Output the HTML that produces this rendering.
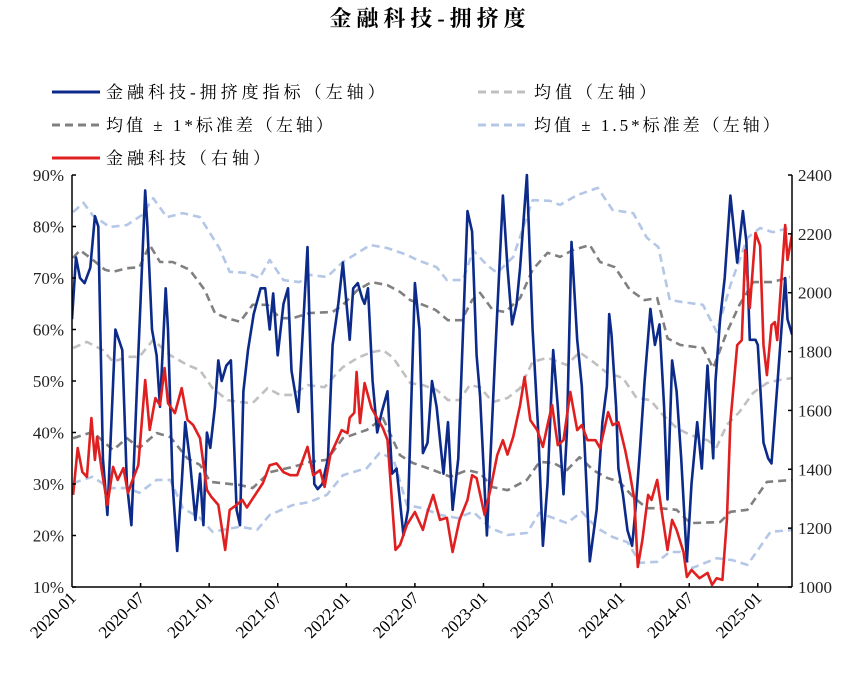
<!DOCTYPE html>
<html><head><meta charset="utf-8"><style>
html,body{margin:0;padding:0;background:#fff;}
svg{display:block;}
</style></head><body>
<svg id="chart" width="859" height="673" xmlns="http://www.w3.org/2000/svg">
<text x="430" y="26" text-anchor="middle" font-family="'Liberation Serif','Noto Serif CJK SC',serif" font-size="22" font-weight="bold" letter-spacing="5" fill="#000">金融科技-拥挤度</text>
<g font-family="'Liberation Serif','Noto Serif CJK SC',serif" font-size="17" letter-spacing="4" fill="#000">
<g><line x1="52" y1="92" x2="100" y2="92" stroke="#0b2a8a" stroke-width="3"/><text x="106" y="98">金融科技-拥挤度指标（左轴）</text></g>
<g><line x1="478" y1="92" x2="526" y2="92" stroke="#c0c0c0" stroke-width="3" stroke-dasharray="8,5"/><text x="534" y="98">均值（左轴）</text></g>
<g><line x1="52" y1="125" x2="100" y2="125" stroke="#808080" stroke-width="3" stroke-dasharray="8,5"/><text x="106" y="131" letter-spacing="3">均值 ± 1*标准差（左轴）</text></g>
<g><line x1="478" y1="125" x2="526" y2="125" stroke="#b4c7e7" stroke-width="3" stroke-dasharray="8,5"/><text x="534" y="131" letter-spacing="3">均值 ± 1.5*标准差（左轴）</text></g>
<g><line x1="52" y1="158" x2="100" y2="158" stroke="#e02020" stroke-width="3"/><text x="106" y="164">金融科技（右轴）</text></g>
</g>
<g id="plot"></g>
</svg>
<script>
const leftTicks=[10,20,30,40,50,60,70,80,90];
const rightTicks=[1000,1200,1400,1600,1800,2000,2200,2400];
const xTickLabels=["2020-01","2020-07","2021-01","2021-07","2022-01","2022-07","2023-01","2023-07","2024-01","2024-07","2025-01"];
const xTickMonths=[0,6,12,18,24,30,36,42,48,54,60];

const blueT=[0,.35,.7,1.1,1.6,2.0,2.3,2.7,3.1,3.8,4.4,4.8,5.2,5.7,6.4,6.6,7.0,7.4,7.7,8.2,8.4,8.8,9.2,9.6,9.9,10.3,10.8,11.2,11.5,11.8,12.1,12.5,12.8,13.1,13.5,13.9,14.4,14.7,15.0,15.4,15.9,16.5,16.9,17.3,17.6,18.0,18.5,18.9,19.2,19.8,20.2,20.6,20.8,21.2,21.5,21.9,22.4,22.8,23.3,23.7,24.3,24.6,25.0,25.4,25.6,25.9,26.3,26.7,27.1,27.6,28.0,28.4,29.0,29.4,30.0,30.4,30.7,31.1,31.5,31.9,32.5,32.9,33.3,33.8,34.6,35.0,35.4,35.7,36.3,37.0,37.7,38.1,38.5,38.9,39.2,39.8,40.3,40.8,41.2,41.6,42.1,42.5,43.0,43.3,43.7,44.2,44.6,45.0,45.3,45.9,46.4,46.8,47.0,47.2,47.6,47.8,48.2,48.6,49.0,49.3,49.7,50.1,50.6,51.0,51.4,51.8,52.1,52.5,52.9,53.3,53.8,54.2,54.7,55.1,55.6,56.1,56.3,56.7,57.1,57.6,58.2,58.7,59.0,59.3,59.8,60.0,60.5,60.9,61.2,61.8,62.4,62.6,63.0];
const blueV=[62,74,70,69,72,82,80,35,24,60,56,30,22,50,87,80,60,55,45,68,60,30,17,30,42,35,23,32,22,40,37,45,54,50,53,54,25,22,48,56,63,68,68,60,67,55,65,68,52,44,60,76,60,30,29,30,35,57,65,73,58,68,69,66,65,68,50,40,44,48,32,33,20,25,69,60,36,38,50,45,32,42,25,35,83,79,55,47,20,54,86,72,61,65,72,90,60,40,18,30,56,45,28,40,77,58,49,30,15,25,42,49,63,59,45,33,28,21,18,25,37,50,64,57,61,45,27,54,48,35,15,30,42,33,53,35,50,62,70,86,73,83,77,58,58,57,38,35,34,52,70,62,59];

const redT=[0.1,.5,.9,1.3,1.7,2.0,2.2,2.6,3.1,3.6,4.0,4.5,4.9,5.2,5.8,6.4,6.8,7.3,7.7,8.1,8.4,9.0,9.6,10.1,10.6,11.2,11.8,12.2,12.8,13.4,13.8,14.4,14.9,15.3,15.8,16.7,17.3,17.9,18.5,19.1,19.7,20.6,21.1,21.7,22.1,22.6,23.2,23.6,24.1,24.3,24.7,24.9,25.2,25.6,26.2,26.8,27.2,27.6,28.3,28.7,29.3,30.0,30.7,31.1,31.6,32.2,32.8,33.3,33.9,34.6,35.0,35.4,36.1,36.6,37.2,37.7,38.1,38.6,39.2,39.6,40.1,40.7,41.2,41.6,42.0,42.5,43.0,43.6,44.2,44.6,45.1,45.8,46.2,46.9,47.3,47.8,48.4,48.8,49.2,49.5,49.9,50.4,50.7,51.2,51.6,52.1,52.5,52.9,53.5,53.8,54.2,54.9,55.6,56.0,56.4,56.9,57.3,57.6,58.2,58.6,58.9,59.3,59.8,60.2,60.5,60.8,61.2,61.5,61.7,62.4,62.6,63.1];
const redV=[1313,1472,1391,1374,1574,1432,1510,1398,1279,1408,1364,1404,1319,1353,1414,1703,1534,1642,1618,1744,1625,1591,1676,1568,1550,1506,1330,1306,1279,1126,1262,1279,1296,1270,1300,1353,1414,1420,1390,1380,1380,1476,1380,1397,1340,1448,1499,1533,1523,1575,1592,1731,1557,1693,1608,1567,1540,1500,1126,1143,1211,1255,1194,1255,1313,1228,1235,1119,1228,1296,1380,1370,1245,1330,1448,1499,1450,1510,1618,1714,1567,1533,1476,1550,1618,1482,1499,1663,1533,1550,1499,1499,1472,1594,1550,1560,1465,1387,1296,1068,1160,1313,1296,1364,1255,1126,1228,1194,1119,1034,1058,1030,1048,1007,1030,1024,1228,1561,1822,1839,2145,1948,2203,2160,1822,1720,1890,1900,1839,2230,2111,2220];

const meanT=[0.1,1.3,2.7,3.6,4.8,5.9,7.1,8.6,10.1,11.2,12.3,13.6,14.7,15.8,17.1,18.2,19.3,20.6,22.1,22.8,23.7,25.0,26.2,27.2,28.1,29.6,30.7,31.9,32.9,33.9,34.8,35.7,36.8,38.1,39.2,40.3,41.6,43.3,44.4,45.6,46.8,48.2,49.4,50.6,51.7,52.9,54.1,55.6,56.4,57.3,58.4,59.6,60.8,61.9,63.1];
const meanV=[56.4,57.6,56.0,53.7,54.7,54.7,58.0,55.0,53.1,52.1,48.6,46.3,45.9,45.7,48.6,47.3,47.3,49.2,48.8,50.6,52.7,54.5,55.6,56.0,54.5,49.6,49.2,48.3,46.3,46.3,49.2,48.8,45.9,46.7,48.6,53.7,54.5,53.1,55.6,53.7,51.6,50.6,46.7,46.3,43.4,40.9,39.5,38.5,37.2,41.5,44.0,47.7,49.6,50.2,50.6];

const up1T=[0.1,0.7,1.6,2.9,3.6,4.8,5.9,6.8,7.7,8.8,10.3,11.6,12.5,13.6,14.7,15.8,17.1,18.2,19.3,20.8,22.8,23.7,25.0,26.2,27.6,28.7,29.6,30.7,31.8,32.9,34.1,35.0,35.7,36.8,37.9,39.2,40.3,41.6,42.7,43.8,45.3,46.2,47.5,48.8,50.1,51.2,52.1,53.2,55.2,56.1,57.3,58.4,59.6,61.3,62.8];
const up1V=[73.9,75.4,73.9,71.6,71.2,71.9,72.1,76.4,73.1,73.1,71.6,67.7,63.2,62.2,61.5,64.8,64.8,62.2,62.2,63.2,63.4,64.8,67.7,69.2,68.6,67.3,65.7,64.8,63.8,61.8,61.8,65.7,67.1,63.8,63.4,66.1,71.6,74.9,74.1,75.4,76.4,73.1,72.1,67.7,65.7,66.1,58.3,57.0,56.4,52.5,59.5,64.8,69.2,69.2,70.2];

const lo1T=[0.1,1.8,3.6,4.8,5.9,7.4,8.6,10.1,11.2,12.1,14.7,15.8,17.3,19.3,20.8,22.3,23.7,25.8,27.2,28.7,29.8,31.6,33.1,34.6,35.7,36.8,38.1,39.8,40.9,42.1,43.3,44.4,45.6,46.8,47.9,49.1,50.3,51.4,52.9,54.1,56.7,57.6,59.1,60.8,63.1];
const lo1V=[38.9,40.1,36.6,38.9,37.0,39.9,39.1,35.0,33.7,30.4,29.8,29.2,32.3,33.3,34.3,34.7,38.9,40.5,42.8,35.6,34.1,32.7,31.4,32.7,32.1,29.4,28.8,30.8,34.3,34.1,32.7,35.2,32.7,31.2,30.4,27.5,25.3,25.3,25.0,22.4,22.6,24.6,25.0,30.4,30.8];

const up15T=[0.1,1.0,1.8,3.3,4.8,6.1,7.1,8.3,9.7,11.2,12.9,13.8,15.3,16.4,17.3,18.5,19.9,20.8,22.3,23.7,26.1,27.6,29.3,30.2,31.9,32.8,34.2,35.1,36.3,37.2,38.6,40.3,41.8,42.7,44.2,46.0,47.3,49.1,50.3,51.3,52.3,53.5,55.2,56.4,57.6,59.1,60.2,61.3,63.1];
const up15V=[82.8,84.6,82.2,79.9,80.3,82.2,85.5,81.8,82.6,81.8,75.8,71.2,71.0,70.0,73.5,69.6,69.2,70.6,70.2,73.1,76.4,75.8,74.5,73.5,72.1,69.6,69.6,75.4,72.5,71.0,74.1,85.1,85.0,84.2,86.1,87.5,83.2,82.6,77.8,76.0,65.7,65.3,64.8,59.5,68.6,77.8,79.7,78.9,79.9];

const lo15T=[0.1,1.8,3.3,4.8,5.9,7.4,8.6,9.7,11.2,12.3,14.7,16.2,17.3,19.3,20.8,22.3,23.7,25.8,26.9,28.1,29.3,30.7,32.2,33.7,35.1,36.6,38.1,39.8,40.9,43.3,44.6,45.9,47.3,48.6,49.7,51.2,52.3,53.2,54.3,56.4,57.8,59.1,61.1,63.1];
const lo15V=[30.2,31.4,29.2,29.2,28.3,30.8,30.8,25.3,23.4,20.7,21.7,21.1,24.0,25.9,26.5,27.9,31.7,33.1,36.0,35.0,25.9,25.3,24.0,23.4,24.6,21.5,20.1,20.5,24.4,22.4,24.6,21.5,19.7,18.7,14.7,14.9,16.8,16.8,13.7,15.6,15.2,14.3,20.7,21.1];

const X0=72, X1=792, Y0=587, Y1=175, PXM=11.43;
function xs(m){return X0+m*PXM;}
function yl(v){return Y0-(v-10)/80*(Y0-Y1);}
function yr(v){return Y0-(v-1000)/1400*(Y0-Y1);}
const NS="http://www.w3.org/2000/svg";
const plot=document.getElementById('plot');
function mk(tag,attrs){const e=document.createElementNS(NS,tag);for(const k in attrs)e.setAttribute(k,attrs[k]);return e;}
function pathD(T,V,yf){return T.map((t,i)=>(i?'L':'M')+xs(t).toFixed(1)+','+yf(V[i]).toFixed(1)).join(' ');}

const defs=mk('defs',{});const cp=mk('clipPath',{id:'clip'});cp.appendChild(mk('rect',{x:X0,y:Y1-2,width:X1-X0,height:Y0-Y1+2}));defs.appendChild(cp);plot.appendChild(defs);

const lines=[
 [up15T,up15V,yl,'#b4c7e7','upper-1-5std-line',true],
 [lo15T,lo15V,yl,'#b4c7e7','lower-1-5std-line',true],
 [up1T,up1V,yl,'#808080','upper-1std-line',true],
 [lo1T,lo1V,yl,'#808080','lower-1std-line',true],
 [meanT,meanV,yl,'#c0c0c0','mean-line',true],
 [blueT,blueV,yl,'#0b2a8a','crowding-index-line',false],
 [redT,redV,yr,'#e02020','fintech-index-line',false]
];
for(const [T,V,yf,c,name,dash] of lines){
  const p=mk('path',{d:pathD(T,V,yf),fill:'none',stroke:c,'stroke-width':2.6,'stroke-linejoin':'round','clip-path':'url(#clip)'});
  if(dash)p.setAttribute('stroke-dasharray','8,5');
  
  
  plot.appendChild(p);
}

const ax=mk('g',{stroke:'#000','stroke-width':1.5,fill:'none'});


ax.appendChild(mk('line',{x1:X0,y1:Y1,x2:X0,y2:Y0}));
ax.appendChild(mk('line',{x1:X1,y1:Y1,x2:X1,y2:Y0}));
ax.appendChild(mk('line',{x1:X0,y1:Y0,x2:X1,y2:Y0}));
plot.appendChild(ax);
const tf="'Liberation Serif',serif";
leftTicks.forEach(v=>{
  const y=yl(v);
  ax.appendChild(mk('line',{x1:X0,y1:y,x2:X0+4,y2:y}));
  const t=mk('text',{x:X0-8,y:y+6,'text-anchor':'end','font-family':tf,'font-size':17,fill:'#222'});
  t.textContent=v+'%';
  
  
  plot.appendChild(t);
});
rightTicks.forEach(v=>{
  const y=yr(v);
  ax.appendChild(mk('line',{x1:X1,y1:y,x2:X1-4,y2:y}));
  const t=mk('text',{x:X1+6,y:y+6,'text-anchor':'start','font-family':tf,'font-size':17,fill:'#222'});
  t.textContent=v;
  
  
  plot.appendChild(t);
});
xTickMonths.forEach((m,i)=>{
  const x=xs(m);
  if(i>0)ax.appendChild(mk('line',{x1:x,y1:Y0,x2:x,y2:Y0-4}));
  const t=mk('text',{x:x+5,y:Y0+12,'text-anchor':'end','font-family':tf,'font-size':17,fill:'#000',transform:'rotate(-45 '+(x+5)+' '+(Y0+12)+')'});
  t.textContent=xTickLabels[i];
  
  
  plot.appendChild(t);
});
</script>
</body></html>
